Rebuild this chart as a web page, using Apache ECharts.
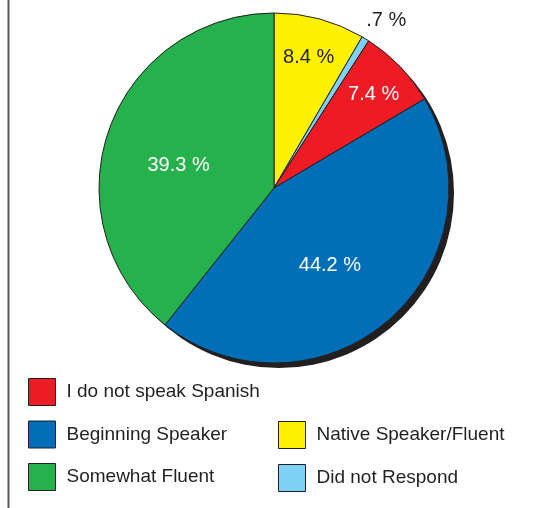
<!DOCTYPE html>
<html>
<head>
<meta charset="utf-8">
<script src="https://cdn.jsdelivr.net/npm/echarts@6/dist/echarts.min.js"></script>
<style>
html,body{margin:0;padding:0;background:#fff;}
#chart{width:555px;height:508px;}
</style>
</head>
<body>
<div id="chart"></div>
<script>
// Data (clockwise from top)
const categories = ['Native Speaker/Fluent', 'Did not Respond', 'I do not speak Spanish', 'Beginning Speaker', 'Somewhat Fluent'];
const values = [8.4, 0.7, 7.4, 44.2, 39.3];
const labelTexts = ['8.4 %', '.7 %', '7.4 %', '44.2 %', '39.3 %'];
const colors = ['#fff200', '#7dd1f5', '#ed1c24', '#006fb8', '#25b14b'];
const legendLeft = ['I do not speak Spanish', 'Beginning Speaker', 'Somewhat Fluent'];
const legendRight = ['Native Speaker/Fluent', 'Did not Respond'];

// label styling/placement (not data)
const labelColors = ['#231f20', '#231f20', '#ffffff', '#ffffff', '#ffffff'];
const labelShift = [[11, -43.5], [65, -90.5], [34.5, -30.6], [-3.5, 9], [-10, 7]];

const chart = echarts.init(document.getElementById('chart'));
const FONT = '"Liberation Sans", Arial, Helvetica, sans-serif';
const center = [274, 188];
const R = 175;

const pieData = categories.map((name, i) => ({
  name: name,
  value: values[i],
  itemStyle: { color: colors[i] },
  label: { formatter: labelTexts[i], color: labelColors[i] }
}));

const legendCommon = {
  orient: 'vertical',
  padding: 0,
  itemWidth: 27,
  itemHeight: 27,
  icon: 'rect',
  selectedMode: false,
  itemStyle: { borderColor: '#231f20', borderWidth: 1 },
  textStyle: { fontFamily: FONT, fontSize: 19, color: '#231f20', padding: [0, 0, 0, 6] }
};

chart.setOption({
  animation: false,
  backgroundColor: '#ffffff',
  legend: [
    Object.assign({}, legendCommon, { left: 28, top: 378, itemGap: 14.5, data: legendLeft }),
    Object.assign({}, legendCommon, { left: 278, top: 421, itemGap: 15, data: legendRight })
  ],
  graphic: [{
    type: 'line',
    silent: true,
    shape: { x1: 8.5, y1: 0, x2: 8.5, y2: 508 },
    style: { stroke: '#5a5a5a', lineWidth: 2 }
  }],
  series: [
    {
      type: 'pie',
      name: 'main',
      center: center,
      radius: R,
      startAngle: 90,
      clockwise: true,
      z: 3,
      silent: true,
      avoidLabelOverlap: false,
      itemStyle: { borderColor: '#231f20', borderWidth: 1 },
      label: {
        show: true,
        position: 'inside',
        fontFamily: FONT,
        fontSize: 20
      },
      labelLine: { show: false },
      labelLayout: function (params) {
        const s = labelShift[params.dataIndex];
        return { dx: s[0], dy: s[1] };
      },
      emphasis: { disabled: true },
      data: pieData
    },
    {
      type: 'pie',
      name: 'shadow',
      center: [center[0] + 5, center[1] + 5],
      radius: R,
      z: 1,
      silent: true,
      label: { show: false },
      labelLine: { show: false },
      itemStyle: { color: '#231f20' },
      emphasis: { disabled: true },
      data: [{ name: '', value: 1 }]
    }
  ]
});
</script>
</body>
</html>
